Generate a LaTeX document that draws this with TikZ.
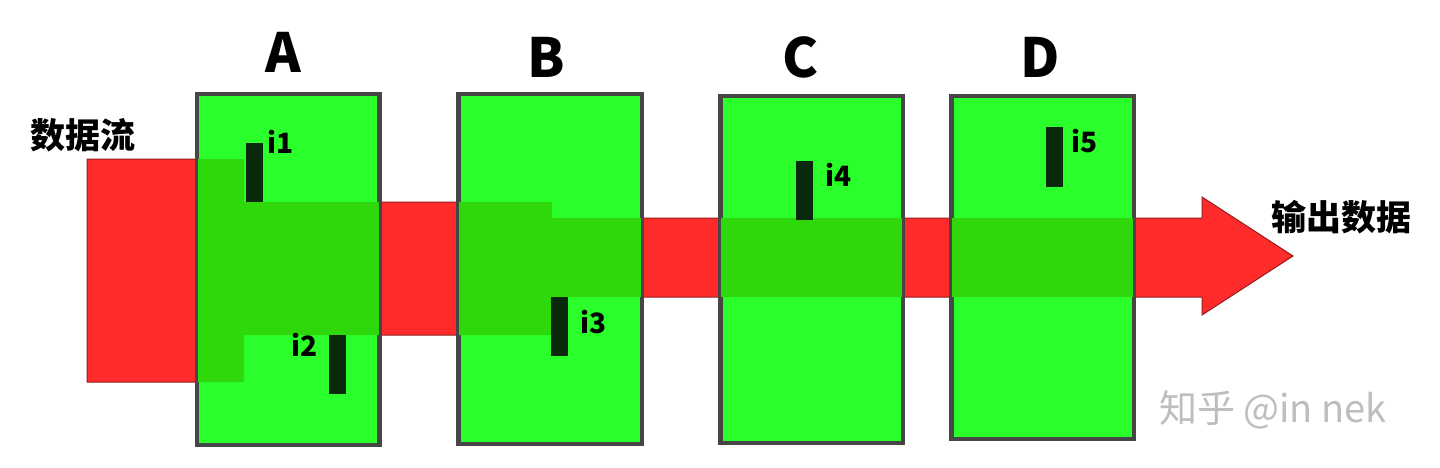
\documentclass[tikz,border=0pt]{standalone}
\usepackage{fontspec}
\newfontfamily\cjk{Noto Sans CJK SC}
\definecolor{flowred}{RGB}{255,43,43}
\definecolor{flowedge}{RGB}{150,30,30}
\definecolor{boxgreen}{RGB}{43,255,43}
\definecolor{overgreen}{RGB}{46,216,10}
\definecolor{boxedge}{RGB}{70,70,70}
\definecolor{bardark}{RGB}{10,40,12}
\definecolor{wmgray}{RGB}{190,190,190}
\tikzset{
  stagebox/.style={draw=boxedge, line width=3pt, fill=boxgreen, inner sep=0pt},
  bar/.style={fill=bardark, draw=none, inner sep=0pt, minimum width=17, minimum height=59},
  ilabel/.style={font=\cjk\bfseries\fontsize{28}{28}\selectfont, inner sep=0pt},
  stagetitle/.style={font=\cjk\bfseries\fontsize{54}{54}\selectfont, inner sep=0pt},
  cjklabel/.style={font=\cjk\bfseries\fontsize{35}{35}\selectfont, inner sep=0pt},
}
\def\flowpath{(87,159) -- (244,159) -- (244,202) -- (552,202) -- (552,218) -- (1202,218) -- (1202,197) -- (1293,256) -- (1202,315) -- (1202,297) -- (552,297) -- (552,335) -- (244,335) -- (244,382) -- (87,382) -- cycle}
\begin{document}
\begin{tikzpicture}[x=1pt,y=-1pt]
\useasboundingbox (0,0) rectangle (1440,468);
\fill[white] (0,0) rectangle (1440,468);
% data flow
\filldraw[fill=flowred, draw=flowedge, line width=1pt] \flowpath;
% boxes
\node[stagebox, minimum width=181, minimum height=349] (A) at (288,269.5) {};
\node[stagebox, minimum width=182, minimum height=348] (B) at (550,269) {};
\node[stagebox, minimum width=181, minimum height=345] (C) at (811.5,269.5) {};
\node[stagebox, minimum width=181, minimum height=341] (D) at (1042.5,267.5) {};
\foreach \b in {A,B,C,D}{
  \begin{scope}
    \clip (\b.south west) rectangle (\b.north east);
    \fill[overgreen] \flowpath;
  \end{scope}
  \draw[boxedge, line width=3pt] (\b.south west) rectangle (\b.north east);
}
% titles
\node[stagetitle] (tA) at (283,52) {A};
\node[stagetitle] (tB) at (546,57) {B};
\node[stagetitle] (tC) at (800,57) {C};
\node[stagetitle] (tD) at (1040,57) {D};
% bars
\node[bar] (b1) at (254,172.5) {};
\node[bar] (b2) at (337.5,364.5) {};
\node[bar] (b3) at (559.5,326.5) {};
\node[bar] (b4) at (804.5,190) {};
\node[bar] (b5) at (1054.5,157) {};
\node[ilabel] (l1) at (281,142) {i1};
\node[ilabel] (l2) at (305,345) {i2};
\node[ilabel] (l3) at (594,322) {i3};
\node[ilabel] (l4) at (839,175) {i4};
\node[ilabel] (l5) at (1085,141) {i5};
% labels
\node[cjklabel] (in) at (83,135) {数据流};
\node[cjklabel] (out) at (1341,217) {输出数据};
% watermark
\node[font=\cjk\fontsize{38}{38}\selectfont, text=wmgray, inner sep=0pt] (wm) at (1273,410) {知乎 @in nek};
\end{tikzpicture}
\end{document}
